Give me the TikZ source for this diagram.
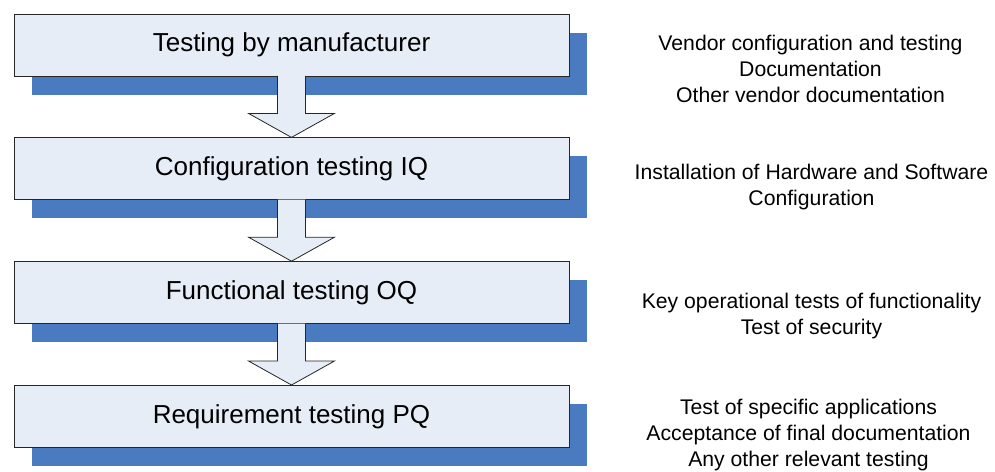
\documentclass[tikz,border=0pt]{standalone}
\usepackage{fontspec}
\setmainfont{Liberation Sans}
\usetikzlibrary{positioning,calc,shadows}
\definecolor{boxfill}{RGB}{231,237,247}
\definecolor{shadowblue}{RGB}{74,123,192}

\begin{document}
\begin{tikzpicture}
  [stage/.style={draw=black!85, line width=0.8pt, fill=boxfill, minimum width=555pt, minimum height=62pt, inner sep=0pt, font=\fontsize{26}{30}\selectfont, drop shadow={shadow xshift=17.5pt, shadow yshift=-18.5pt, fill=shadowblue, opacity=1}},
   note/.style={align=center, inner sep=0pt, font=\fontsize{21.2}{26}\selectfont},
   node distance=61pt]
  \useasboundingbox (0,0) rectangle (995pt,-471pt);

  \node (mfr) [stage] at (291.5pt,-45pt) {Testing by manufacturer};
  \node (iq) [stage, below=of mfr] {Configuration testing IQ};
  \node (oq) [stage, below=of iq] {Functional testing OQ};
  \node (pq) [stage, below=of oq] {Requirement testing PQ};

  % block arrows between the stages
  \foreach \a/\b in {mfr/iq,iq/oq,oq/pq}
    \filldraw[fill=boxfill, draw=black!85, line width=0.8pt]
      ($(\a.south)+(-14pt,0.5pt)$) -- ++(0,-37.5pt) -- ++(-29pt,0) -- (\b.north)
      -- ($(\a.south)+(43pt,-37pt)$) -- ++(-29pt,0) -- ($(\a.south)+(14pt,0.5pt)$);

  \node (vendor) [note] at ($(mfr.center)+(519pt,-24pt)$) {Vendor configuration and testing\\Documentation\\Other vendor documentation};
  \node (install) [note] at ($(iq.center)+(520pt,-18pt)$) {Installation of Hardware and Software\\Configuration};
  \node (keyops) [note] at ($(oq.center)+(520pt,-23pt)$) {Key operational tests of functionality\\Test of security};
  \node (specific) [note] at ($(pq.center)+(517pt,-19pt)$) {Test of specific applications\\Acceptance of final documentation\\Any other relevant testing};
\end{tikzpicture}
\end{document}
